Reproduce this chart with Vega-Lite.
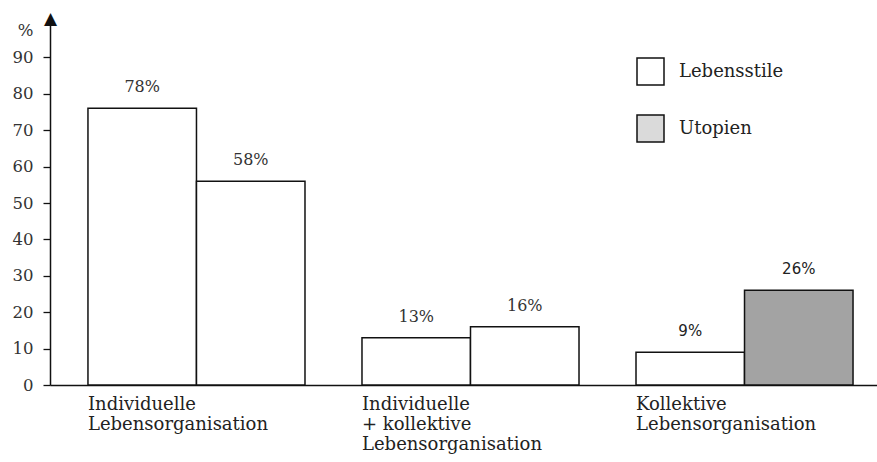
{
  "$schema": "https://vega.github.io/schema/vega-lite/v6.json",
  "width": 827,
  "height": 364,
  "autosize": {"type": "none"},
  "padding": {"left": 50, "top": 21, "right": 0, "bottom": 77},
  "background": "white",
  "config": {"view": {"stroke": null}},
  "data": {
    "values": [
      {"group": "Individuelle\nLebensorganisation", "series": "Lebensstile", "value": 76, "label": "78%"},
      {"group": "Individuelle\nLebensorganisation", "series": "Utopien", "value": 56, "label": "58%"},
      {"group": "Individuelle\n+ kollektive\nLebensorganisation", "series": "Lebensstile", "value": 13, "label": "13%"},
      {"group": "Individuelle\n+ kollektive\nLebensorganisation", "series": "Utopien", "value": 16, "label": "16%"},
      {"group": "Kollektive\nLebensorganisation", "series": "Lebensstile", "value": 9, "label": "9%"},
      {"group": "Kollektive\nLebensorganisation", "series": "Utopien", "value": 26, "label": "26%"}
    ]
  },
  "encoding": {
    "x": {
      "field": "group",
      "type": "nominal",
      "sort": ["Individuelle\nLebensorganisation", "Individuelle\n+ kollektive\nLebensorganisation", "Kollektive\nLebensorganisation"],
      "scale": {"paddingInner": 0.208, "paddingOuter": 0.113, "align": 0.613},
      "axis": {
        "title": null,
        "labelAlign": "left",
        "labelAngle": 0,
        "labelBaseline": "top",
        "labelOffset": -108.5,
        "labelLimit": 400,
        "labelExpr": "split(datum.label, '\\n')",
        "ticks": false,
        "labelPadding": 10,
        "labelFont": "DejaVu Serif",
        "labelFontSize": 18,
        "labelLineHeight": 20,
        "labelColor": "#222",
        "domainColor": "#111",
        "domainWidth": 1.5
      }
    },
    "xOffset": {
      "field": "series",
      "type": "nominal",
      "sort": ["Lebensstile", "Utopien"],
      "scale": {"paddingInner": 0, "paddingOuter": 0}
    },
    "y": {
      "field": "value",
      "type": "quantitative",
      "scale": {"domain": [0, 100], "nice": false},
      "axis": {
        "title": "▲",
        "titleAngle": 0,
        "titleX": 0,
        "titleY": 2,
        "titleAlign": "center",
        "titleBaseline": "alphabetic",
        "titleFont": "DejaVu Sans",
        "titleFontSize": 17,
        "titleColor": "#111",
        "values": [0, 10, 20, 30, 40, 50, 60, 70, 80, 90, 100],
        "labelExpr": "datum.value == 100 ? '%' : datum.label",
        "tickOpacity": {"condition": {"test": "datum.value == 100", "value": 0}, "value": 1},
        "labelOffset": {"condition": {"test": "datum.value == 100", "value": 9}, "value": 0},
        "tickSize": 7,
        "tickColor": "#111",
        "tickWidth": 1.3,
        "labelPadding": 10,
        "labelFont": "DejaVu Serif",
        "labelFontSize": 16.5,
        "labelColor": "#333",
        "domainColor": "#111",
        "domainWidth": 1.5,
        "grid": false
      }
    }
  },
  "layer": [
    {
      "mark": {"type": "bar", "stroke": "#111", "strokeWidth": 1.5},
      "encoding": {
        "fill": {
          "condition": [
            {"test": "datum.series == 'Utopien' && indexof(datum.group, 'Kollektive') == 0", "value": "#a3a3a3"},
            {"test": "datum.series == 'Utopien'", "value": "#ffffff"}
          ],
          "field": "series",
          "type": "nominal",
          "scale": {"domain": ["Lebensstile", "Utopien"], "range": ["#ffffff", "#dadada"]},
          "legend": {
            "title": null,
            "orient": "none",
            "legendX": 586,
            "legendY": 36,
            "direction": "vertical",
            "symbolType": "square",
            "symbolSize": 729,
            "labelFont": "DejaVu Serif",
            "labelFontSize": 18,
            "labelColor": "#222",
            "labelOffset": 14,
            "rowPadding": 24,
            "encode": {
              "symbols": {
                "update": {
                  "stroke": {"value": "#111"},
                  "strokeWidth": {"value": 1.5},
                  "opacity": {"value": 1}
                }
              }
            }
          }
        }
      }
    },
    {
      "transform": [{"filter": "indexof(datum.group, 'Kollektive') != 0"}],
      "mark": {"type": "text", "font": "DejaVu Serif", "fontSize": 16, "dy": -21, "color": "#333", "baseline": "middle"},
      "encoding": {"text": {"field": "label"}}
    },
    {
      "transform": [{"filter": "indexof(datum.group, 'Kollektive') == 0"}],
      "mark": {"type": "text", "font": "DejaVu Sans", "fontSize": 15, "dy": -21, "color": "#222", "baseline": "middle"},
      "encoding": {"text": {"field": "label"}}
    }
  ]
}
